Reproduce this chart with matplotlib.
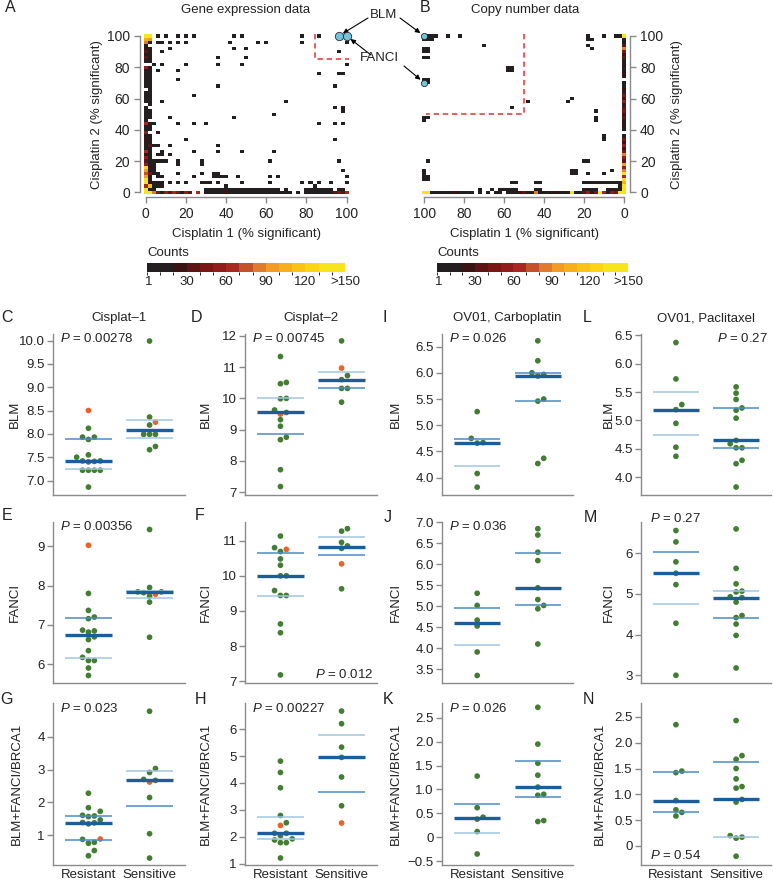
import numpy as np
import matplotlib.pyplot as plt
from matplotlib.colors import ListedColormap, BoundaryNorm
from matplotlib.cm import ScalarMappable

plt.rcParams['font.family'] = ['Liberation Sans', 'DejaVu Sans']
plt.rcParams['mathtext.fontset'] = 'custom'
plt.rcParams['mathtext.it'] = 'Liberation Sans:italic'
plt.rcParams['mathtext.rm'] = 'Liberation Sans'

W, H = 773, 883

# ---------------- heatmap data (bins of 2 %) ----------------
# column x=0 / x=2 counts for y = 0, 2, ..., 100
A_COL0 = [160, 140, 60, 130, 150, 90, 70, 95, 120, 50, 30, 55, 20, 60, 10, 5, 5, 25, 5, 50,
          5, 5, 60, 5, 5, 15, 5, 5, 0, 5, 5, 5, 5, 0, 5, 5, 5, 5, 5, 5,
          50, 0, 5, 30, 5, 35, 25, 5, 80, 100, 140]
A_COL2 = [150, 5, 110, 25, 5, 5, 40, 5, 20, 5, 5, 5, 5, 5, 5, 30, 5, 5, 5, 0,
          5, 5, 5, 0, 5, 5, 5, 0, 5, 5, 5, 5, 5, 5, 5, 5, 5, 5, 5, 5,
          5, 0, 5, 5, 5, 5, 5, 0, 5, 90, 130]
# row y=0 counts for x = 4, 6, ..., 100
A_ROW0 = [85, 40, 5, 55, 30, 60, 45, 5, 55, 35, 0, 60, 0,
          5, 8, 3, 6, 12, 25, 4, 7, 5, 9, 3, 6, 8, 4, 10, 5, 7, 3, 6, 9, 4, 5,
          0, 5, 0, 6, 4, 8, 5, 3, 7, 12, 30, 45, 35, 60]
A_CELLS = [(6, 100), (10, 100), (16, 100), (20, 100), (24, 100), (44, 100), (48, 100), (78, 100),
           (86, 100), (96, 100), (100, 100),
           (6, 96), (8, 96), (12, 96), (16, 96), (20, 96), (42, 96), (56, 96), (60, 96), (78, 96),
           (100, 96), (12, 92), (44, 92), (50, 92), (8, 90), (96, 90), (36, 86), (50, 86),
           (4, 82), (8, 82), (20, 82), (36, 82), (48, 82), (100, 82), (6, 78), (16, 78),
           (86, 76), (96, 76), (98, 76), (16, 72), (36, 68), (94, 68), (24, 62), (8, 58), (70, 58),
           (94, 54), (98, 54), (98, 52), (64, 50), (12, 48), (44, 48),
           (4, 44), (16, 44), (24, 44), (30, 44), (86, 44), (94, 44), (98, 44), (6, 38),
           (20, 34), (94, 34), (4, 30), (6, 30), (12, 30), (36, 30),
           (8, 26), (24, 26), (36, 26), (48, 26), (64, 26), (6, 24), (8, 24), (12, 24),
           (4, 20), (6, 20), (8, 20), (10, 20), (16, 20), (28, 20), (62, 20), (96, 20),
           (4, 18), (16, 18), (28, 18), (4, 16), (4, 14), (98, 14),
           (4, 12), (6, 12), (16, 12), (28, 12), (34, 12), (36, 12),
           (6, 10), (8, 10), (24, 10), (34, 10), (36, 10), (38, 10), (40, 10), (46, 10), (62, 10),
           (66, 10), (100, 10),
           (4, 6), (6, 6), (8, 6), (12, 6), (16, 6), (20, 6), (28, 6), (30, 6), (32, 6), (36, 6),
           (48, 6), (62, 6), (78, 6), (82, 6), (86, 6), (92, 6), (100, 6),
           (4, 4), (6, 4), (8, 4), (40, 4), (84, 4),
           (4, 2), (30, 2), (32, 2), (34, 2), (36, 2), (38, 2), (40, 2), (42, 2), (44, 2), (46, 2),
           (48, 2), (50, 2), (52, 2), (54, 2), (56, 2), (58, 2), (60, 2), (62, 2), (64, 2), (66, 2),
           (70, 2), (80, 2), (82, 2), (84, 2), (86, 2), (88, 2), (90, 2), (92, 2), (96, 2), (98, 2)]

B_COL0 = [160, 150, 140, 100, 145, 60, 140, 85, 55, 90, 30, 55, 85, 40, 20, 55, 25, 45, 5, 0,
          5, 5, 25, 5, 30, 20, 45, 35, 5, 50, 25, 45, 5, 20, 5, 5, 0, 5, 25, 5,
          5, 25, 5, 30, 25, 45, 85, 35, 5, 5, 150]
B_ROW0 = [40, 55, 5, 60, 150, 45, 25, 50, 35, 5, 5, 150, 5, 5, 5, 25, 5, 5, 5, 5,
          85, 5, 5, 30, 25, 5, 5, 5, 0, 5, 5, 0, 5, 0, 5, 0, 5, 5, 5, 5,
          25, 5, 5, 5, 5, 5, 5, 150, 150]
B_CELLS = [(98, 100), (96, 100), (94, 100), (88, 100), (82, 100), (18, 100), (10, 100), (4, 100),
           (2, 100), (100, 100), (100, 98), (98, 98), (96, 98), (18, 98), (16, 98), (70, 94), (18, 94),
           (16, 92), (100, 92), (98, 92), (100, 90), (98, 90), (100, 86), (98, 86),
           (58, 80), (56, 80), (58, 78), (56, 78), (100, 72), (98, 72), (100, 70), (98, 70),
           (48, 58), (28, 58), (26, 60), (56, 54), (14, 52), (14, 48), (14, 46),
           (100, 48), (98, 48), (100, 46), (10, 36), (10, 34), (98, 20), (20, 20), (18, 20),
           (100, 14), (100, 12), (26, 14), (24, 14), (26, 12), (24, 12), (18, 12), (10, 12), (6, 14),
           (100, 10), (98, 10), (100, 8), (98, 8),
           (56, 6), (54, 6), (44, 6), (42, 6), (20, 6), (18, 6), (16, 6), (14, 6), (12, 6), (10, 6),
           (8, 6), (6, 6), (4, 6), (2, 6),
           (72, 2), (66, 2), (62, 2), (60, 2), (58, 2), (56, 2), (54, 2), (44, 2), (42, 2), (20, 2),
           (18, 2), (16, 2), (14, 2), (8, 2), (6, 2), (4, 2), (2, 2), (2, 4)]
B_HOT = [(2, 0, 150)]

GENES_A = {'BLM': (96, 100), 'FANCI': (100, 100)}
GENES_B = {'BLM': (100, 100), 'FANCI': (100, 70)}

CB_TICKS = [1, 30, 60, 90, 120, 150]
CB_LABELS = ['1', '30', '60', '90', '120', '>150']
HEAT_TICKS = [0, 20, 40, 60, 80, 100]

# ---------------- dot plot data ----------------
C_RES = [8.12, 7.93, 7.93, 7.88, 7.55, 7.50, 7.42, 7.41, 7.40, 7.42, 7.22, 7.22, 7.22, 7.22, 6.86]
C_SEN = [9.99, 8.36, 8.19, 7.99, 7.99, 7.99, 7.73, 7.66]
C_HI = ([8.50], [8.25])
C_BARS = ([7.89, 7.41, 7.24], [8.29, 8.09, 7.91])
C_SHADE = ('ml', 'll')
C_TICKS = [7.0, 7.5, 8.0, 8.5, 9.0, 9.5, 10.0]

D_RES = [11.34, 10.47, 10.51, 10.0, 9.99, 9.63, 9.55, 9.32, 9.11, 8.76, 8.68, 7.72, 7.18]
D_SEN = [11.84, 10.73, 10.60, 10.32, 10.32, 9.88]
D_HI = ([9.50], [10.97])
D_BARS = ([10.0, 9.55, 8.86], [10.86, 10.6, 10.32])
D_SHADE = ('lm', 'lm')
D_TICKS = [7, 8, 9, 10, 11, 12]

E_RES = [7.80, 7.37, 7.16, 7.20, 6.82, 6.85, 6.87, 6.70, 6.63, 6.35, 6.18, 6.10, 6.10, 5.91, 5.72]
E_SEN = [9.42, 7.95, 7.84, 7.84, 7.82, 7.73, 7.58, 6.69]
E_HI = ([9.02], [7.78])
E_BARS = ([7.18, 6.74, 6.16], [7.85, 7.83, 7.69])
E_SHADE = ('ml', 'll')
E_TICKS = [6, 7, 8, 9]

F_RES = [11.13, 10.80, 10.69, 10.48, 10.30, 10.0, 10.0, 9.58, 9.44, 9.44, 8.63, 8.38, 7.18]
F_SEN = [11.34, 11.27, 10.95, 10.85, 10.78, 9.63]
F_HI = ([10.75], [10.34])
F_BARS = ([10.64, 9.98, 9.43], [11.11, 10.83, 10.58])
F_SHADE = ('ml', 'lm')
F_TICKS = [7, 8, 9, 10, 11]

G_RES = [2.28, 1.84, 1.73, 1.59, 1.57, 1.61, 1.47, 1.39, 1.35, 1.38, 0.88, 0.76, 0.79, 0.54, 0.38]
G_SEN = [4.77, 3.03, 2.91, 2.70, 2.67, 2.15, 1.05, 0.31]
G_HI = ([0.89], [2.62])
G_BARS = ([1.59, 1.37, 0.86], [2.95, 2.67, 1.88])
G_SHADE = ('mm', 'lm')
G_TICKS = [1, 2, 3, 4]

H_RES = [4.81, 4.39, 3.82, 2.79, 2.52, 2.13, 2.13, 2.04, 1.92, 1.88, 1.78, 1.78, 1.21]
H_SEN = [6.67, 6.20, 5.33, 4.95, 4.22, 3.15]
H_HI = ([2.42], [2.51])
H_BARS = ([2.75, 2.13, 1.92], [5.78, 4.96, 3.67])
H_SHADE = ('ll', 'lm')
H_TICKS = [1, 2, 3, 4, 5, 6]

I_RES = [5.26, 4.75, 4.66, 4.67, 4.08, 3.82]
I_SEN = [6.61, 6.23, 6.00, 5.94, 5.97, 5.50, 5.46, 4.37, 4.27]
I_BARS = ([4.73, 4.67, 4.22], [5.99, 5.93, 5.46])
I_SHADE = ('ml', 'mm')
I_TICKS = [4.0, 4.5, 5.0, 5.5, 6.0, 6.5]

J_RES = [5.31, 5.02, 4.67, 4.53, 3.91, 3.35]
J_SEN = [6.85, 6.70, 6.29, 6.09, 5.44, 5.16, 5.02, 4.94, 4.10]
J_BARS = ([4.95, 4.60, 4.08], [6.27, 5.43, 5.02])
J_SHADE = ('ml', 'mm')
J_TICKS = [3.5, 4.0, 4.5, 5.0, 5.5, 6.0, 6.5, 7.0]

K_RES = [1.28, 0.62, 0.42, 0.38, 0.12, -0.35]
K_SEN = [2.72, 1.95, 1.55, 1.30, 1.05, 0.90, 0.88, 0.35, 0.33]
K_BARS = ([0.70, 0.40, 0.10], [1.60, 1.05, 0.85])
K_SHADE = ('ml', 'mm')
K_TICKS = [-0.5, 0, 0.5, 1.0, 1.5, 2.0, 2.5]
K_LABELS = ['\u22120.5', '0', '0.5', '1.0', '1.5', '2.0', '2.5']

L_RES = [6.37, 5.73, 5.28, 5.19, 4.95, 4.53, 4.37]
L_SEN = [5.59, 5.48, 5.37, 5.22, 5.18, 5.04, 4.65, 4.59, 4.52, 4.52, 4.30, 4.24, 3.83]
L_BARS = ([5.50, 5.19, 4.75], [5.22, 4.65, 4.52])
L_SHADE = ('ll', 'mm')
L_TICKS = [4.0, 4.5, 5.0, 5.5, 6.0, 6.5]

M_RES = [6.56, 6.28, 5.79, 5.51, 5.23, 4.28, 3.00]
M_SEN = [6.60, 5.63, 5.25, 5.05, 5.07, 4.93, 4.91, 4.80, 4.47, 4.42, 4.26, 3.98, 3.18]
M_BARS = ([6.02, 5.52, 4.75], [5.07, 4.91, 4.41])
M_SHADE = ('ml', 'lm')
M_TICKS = [3, 4, 5, 6]

N_RES = [2.35, 1.45, 1.42, 0.88, 0.70, 0.65, 0.58]
N_SEN = [2.43, 1.75, 1.68, 1.50, 1.30, 1.15, 1.12, 0.90, 0.85, 0.20, 0.17, 0.15, -0.20]
N_BARS = ([1.43, 0.87, 0.65], [1.62, 0.90, 0.18])
N_SHADE = ('mm', 'ml')
N_TICKS = [0, 0.5, 1.0, 1.5, 2.0, 2.5]
N_LABELS = ['0', '0.5', '1.0', '1.5', '2.0', '2.5']

P_TEXT = {'C': '0.00278', 'D': '0.00745', 'E': '0.00356', 'F': '0.012', 'G': '0.023', 'H': '0.00227',
          'I': '0.026', 'J': '0.036', 'K': '0.026', 'L': '0.27', 'M': '0.27', 'N': '0.54'}
TITLES = ['Cisplat\u20131', 'Cisplat\u20132', 'OV01, Carboplatin', 'OV01, Paclitaxel']
YLABELS = ['BLM', 'FANCI', 'BLM+FANCI/BRCA1']
GROUPS = ['Resistant', 'Sensitive']

# ---------------- styling ----------------
CB_COLORS = ['#231f20', '#231f20', '#3d1212', '#5c1414', '#7a1616', '#921c1c', '#a8281f', '#c3522b',
             '#e07a2c', '#f29b25', '#f7b01c', '#fbc316', '#fdd413', '#f7e41a', '#f7e41a']
CMAP = ListedColormap(CB_COLORS)
NORM = BoundaryNorm(np.arange(0, 151, 10), CMAP.N, clip=True)
GREEN = '#437d34'
ORANGE = '#e9622b'
DARK = '#1c5e9c'
SHADE = {'m': '#4a8cc6', 'l': '#a2c6e2'}
AXGRAY = '#8a8a8a'
TXT = '#222222'

fig = plt.figure(figsize=(W / 100, H / 100), dpi=100)


def px_axes(l, t, r, b):
    return fig.add_axes([l / W, 1 - b / H, (r - l) / W, (b - t) / H])


def ftext(x, y, s, **kw):
    fig.text(x / W, 1 - y / H, s, **kw)


def count_grid(col0, col2, row0, cells, hot=()):
    g = np.zeros((51, 51))
    g[:, 0] = col0
    if col2 is not None:
        g[:, 1] = col2
    g[0, 2:] = row0
    for x, y in cells:
        if g[y // 2, x // 2] == 0:
            g[y // 2, x // 2] = 1
    for x, y, c in hot:
        g[y // 2, x // 2] = c
    return np.ma.masked_equal(g, 0)


def heat_panel(ax, grid, right):
    edges = np.arange(-1, 102, 2)
    ax.pcolormesh(edges, edges, grid, cmap=CMAP, norm=NORM)
    ax.set_ylim(-3, 103)
    if right:
        ax.set_xlim(103, -3)
    else:
        ax.set_xlim(-3, 103)
    ax.set_xticks(HEAT_TICKS)
    ax.set_yticks(HEAT_TICKS)
    for s in ('top', 'left', 'right', 'bottom'):
        ax.spines[s].set_visible(False)
    side = 'right' if right else 'left'
    ax.spines['bottom'].set_visible(True)
    ax.spines[side].set_visible(True)
    for s in ('bottom', side):
        ax.spines[s].set_bounds(0, 100)
        ax.spines[s].set_color(AXGRAY)
        ax.spines[s].set_linewidth(1.0)
    if right:
        ax.yaxis.tick_right()
        ax.yaxis.set_label_position('right')
    ax.tick_params(direction='out', length=4.5, width=1.0, color=AXGRAY,
                   labelsize=10, labelcolor=TXT, pad=2.5)
    ax.set_xlabel('Cisplatin 1 (% significant)', fontsize=9.5, color=TXT)
    ax.set_ylabel('Cisplatin 2 (% significant)', fontsize=9.5, color=TXT)
    ax.xaxis.set_label_coords(0.5, -0.185)
    ax.yaxis.set_label_coords(1.194 if right else -0.17, 0.5)


axA = px_axes(139.7, 31.3, 352.7, 197.0)
axB = px_axes(418.3, 31.3, 630.3, 197.0)
heat_panel(axA, count_grid(A_COL0, A_COL2, A_ROW0, A_CELLS), False)
heat_panel(axB, count_grid(B_COL0, None, B_ROW0, B_CELLS, B_HOT), True)

axA.plot([84, 84, 101], [101, 85, 85], ls=(0, (3.5, 2.5)), color='#e2342f', lw=1.1, clip_on=False)
axB.plot([50, 50, 99], [101, 50, 50], ls=(0, (3.5, 2.5)), color='#e2342f', lw=1.1, clip_on=False)

for ax, genes, ms in ((axA, GENES_A, 6), (axB, GENES_B, 4.5)):
    for g, (gx, gy) in genes.items():
        ax.plot([gx], [gy], 'o', ms=ms, mfc='#74c4dd', mec='#2b2b2b', mew=0.6, clip_on=False, zorder=5)

ftext(384, 15, 'BLM', ha='center', va='center', fontsize=9.5, color=TXT)
ftext(379, 58, 'FANCI', ha='center', va='center', fontsize=9.5, color=TXT)
arrow = dict(arrowstyle='-|>', color='black', lw=0.8, mutation_scale=7, shrinkA=0, shrinkB=3.5)
starts = {('BLM', 'A'): (368, 18), ('BLM', 'B'): (400, 18),
          ('FANCI', 'A'): (371, 55), ('FANCI', 'B'): (404, 66)}
for (g, panel), (sx, sy) in starts.items():
    ax = axA if panel == 'A' else axB
    genes = GENES_A if panel == 'A' else GENES_B
    ax.annotate('', xy=genes[g], xycoords='data', xytext=(sx, H - sy), textcoords='figure pixels',
                arrowprops=arrow, annotation_clip=False)

ftext(10, 8, 'A', ha='center', va='center', fontsize=11.5, color=TXT)
ftext(425, 8, 'B', ha='center', va='center', fontsize=11.5, color=TXT)
ftext(246, 10, 'Gene expression data', ha='center', va='center', fontsize=9.5, color=TXT)
ftext(525, 10, 'Copy number data', ha='center', va='center', fontsize=9.5, color=TXT)

# colour bars
for l, r in ((147, 345), (437, 628)):
    cax = px_axes(l, 263, r, 272)
    cb = fig.colorbar(ScalarMappable(norm=NORM, cmap=CMAP), cax=cax, orientation='horizontal',
                      ticks=CB_TICKS)
    cb.outline.set_visible(False)
    cb.set_ticklabels(CB_LABELS)
    cax.tick_params(length=0, labelsize=9.5, labelcolor=TXT, pad=3)
    ftext(l, 253, 'Counts', ha='left', va='center', fontsize=9.5, color=TXT)


# ---------------- dot plots ----------------
def swarm_x(ax, vals, centre):
    bb = ax.get_position()
    y0, y1 = ax.get_ylim()
    x0, x1 = ax.get_xlim()
    ypu = bb.height * H / (y1 - y0)
    xpu = bb.width * W / (x1 - x0)
    gap, diam = 5.9, 5.6
    placed = []
    xs = np.empty(len(vals))
    for i in np.argsort(vals, kind='stable'):
        py = vals[i] * ypu
        for k in (0, 1, -1, 2, -2, 3, -3, 4, -4):
            px = k * gap
            if all((px - qx) ** 2 + (py - qy) ** 2 >= diam ** 2 for qx, qy in placed):
                break
        placed.append((px, py))
        xs[i] = centre + px / xpu
    return xs


COLS = [(53, 185), (245, 377), (442, 573), (641, 771)]
ROWS = [(334, 495), (522, 683), (703, 865)]
YLAB_X = [[-0.24, -0.254, -0.31, -0.204],
          [-0.24, -0.254, -0.31, -0.204],
          [-0.23, -0.254, -0.31, -0.27]]

PANELS = [
    ('C', 0, 0, C_RES, C_SEN, C_HI, C_BARS, C_SHADE, C_TICKS, None, (6.69, 10.14), (0.05, 0.975, 'left')),
    ('D', 1, 0, D_RES, D_SEN, D_HI, D_BARS, D_SHADE, D_TICKS, None, (6.91, 12.06), (0.05, 0.975, 'left')),
    ('I', 2, 0, I_RES, I_SEN, None, I_BARS, I_SHADE, I_TICKS, None, (3.67, 6.74), (0.05, 0.97, 'left')),
    ('L', 3, 0, L_RES, L_SEN, None, L_BARS, L_SHADE, L_TICKS, None, (3.69, 6.52), (0.975, 0.975, 'right')),
    ('E', 0, 1, E_RES, E_SEN, E_HI, E_BARS, E_SHADE, E_TICKS, None, (5.53, 9.61), (0.05, 0.975, 'left')),
    ('F', 1, 1, F_RES, F_SEN, F_HI, F_BARS, F_SHADE, F_TICKS, None, (6.95, 11.53), (0.97, 0.05, 'right')),
    ('J', 2, 1, J_RES, J_SEN, None, J_BARS, J_SHADE, J_TICKS, None, (3.17, 7.01), (0.05, 0.975, 'left')),
    ('M', 3, 1, M_RES, M_SEN, None, M_BARS, M_SHADE, M_TICKS, None, (2.81, 6.77), (0.07, 1.02, 'left')),
    ('G', 0, 2, G_RES, G_SEN, G_HI, G_BARS, G_SHADE, G_TICKS, None, (0.10, 5.02), (0.05, 0.965, 'left')),
    ('H', 1, 2, H_RES, H_SEN, H_HI, H_BARS, H_SHADE, H_TICKS, None, (0.95, 6.97), (0.05, 0.965, 'left')),
    ('K', 2, 2, K_RES, K_SEN, None, K_BARS, K_SHADE, K_TICKS, K_LABELS, (-0.58, 2.81), (0.05, 0.965, 'left')),
    ('N', 3, 2, N_RES, N_SEN, None, N_BARS, N_SHADE, N_TICKS, N_LABELS, (-0.37, 2.77), (0.07, 0.06, 'left')),
]
LETTER_POS = {'C': (7, 317), 'D': (197, 317), 'I': (385, 317), 'L': (587, 317),
              'E': (7, 515), 'F': (200, 515), 'J': (388, 518), 'M': (590, 517),
              'G': (7, 700), 'H': (200, 700), 'K': (388, 700), 'N': (588, 700)}

for letter, ci, ri, res, sen, hi, bars, shades, ticks, labels, ylim, ptxt in PANELS:
    l, r = COLS[ci]
    t, b = ROWS[ri]
    ax = px_axes(l, t, r, b)
    ax.set_xlim(0.42, 2.58)
    ax.set_ylim(*ylim)
    hi = hi if hi is not None else ([], [])
    for centre, green, orange, bar, shade in ((1, res, hi[0], bars[0], shades[0]),
                                              (2, sen, hi[1], bars[1], shades[1])):
        vals = np.array(list(green) + list(orange), dtype=float)
        cols = [GREEN] * len(green) + [ORANGE] * len(orange)
        xs = swarm_x(ax, vals, centre)
        ax.scatter(xs, vals, s=17, c=cols, linewidths=0, zorder=2, clip_on=False)
        up, med, lo = bar
        ax.hlines(up, centre - 0.38, centre + 0.38, color=SHADE[shade[0]], lw=1.1, zorder=3)
        ax.hlines(lo, centre - 0.38, centre + 0.38, color=SHADE[shade[1]], lw=1.1, zorder=3)
        ax.hlines(med, centre - 0.38, centre + 0.38, color=DARK, lw=2.4, zorder=4)
    for s in ('top', 'right'):
        ax.spines[s].set_visible(False)
    for s in ('left', 'bottom'):
        ax.spines[s].set_color(AXGRAY)
        ax.spines[s].set_linewidth(1.0)
    ax.set_yticks(ticks)
    if labels is not None:
        ax.set_yticklabels(labels)
    elif isinstance(ticks[0], float):
        ax.set_yticklabels(['%.1f' % v for v in ticks])
    ax.tick_params(axis='y', direction='out', length=4, width=1.0, color=AXGRAY,
                   labelsize=9.5, labelcolor=TXT, pad=2)
    if ri == 2:
        ax.set_xticks([1, 2])
        ax.set_xticklabels(GROUPS)
        ax.tick_params(axis='x', length=0, labelsize=9.5, labelcolor=TXT, pad=3)
    else:
        ax.set_xticks([])
    ax.set_ylabel(YLABELS[ri], fontsize=9.5, color=TXT)
    ax.yaxis.set_label_coords(YLAB_X[ri][ci], 0.5)
    if ri == 0:
        ax.set_title(TITLES[ci], fontsize=9.5, color=TXT, pad=9)
    px_, py_, ha = ptxt
    ax.text(px_, py_, '$P$ = ' + P_TEXT[letter], transform=ax.transAxes, ha=ha, va='center',
            fontsize=9.5, color=TXT)
    lx, ly = LETTER_POS[letter]
    ftext(lx, ly, letter, ha='center', va='center', fontsize=11.5, color=TXT)

fig.savefig('out.png', dpi=100)
